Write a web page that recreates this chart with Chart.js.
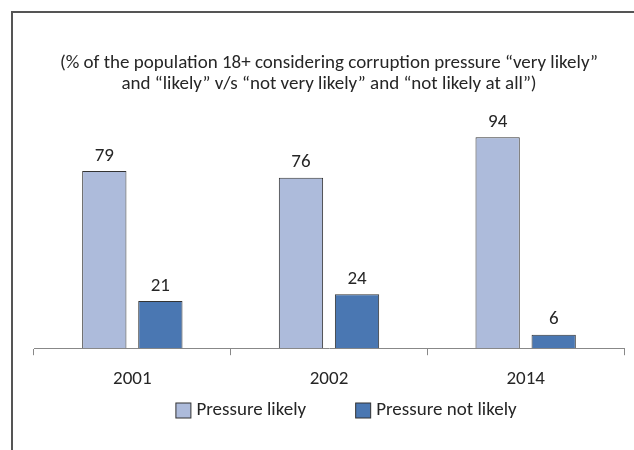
<!DOCTYPE html>
<html>
<head>
<meta charset="utf-8">
<script src="https://cdn.jsdelivr.net/npm/chart.js@4/dist/chart.umd.min.js"></script>
<style>
  html, body { margin: 0; padding: 0; background: #fff; }
  #wrap { width: 634px; height: 450px; position: relative; }
</style>
</head>
<body>
<div id="wrap"><canvas id="pressureChart" width="634" height="450"></canvas></div>
<script>
// Survey years and shares (%)
const years = ['2001', '2002', '2014'];
const pressureLikely = [79, 76, 94];
const pressureNotLikely = [21, 24, 6];
const seriesNames = ['Pressure likely', 'Pressure not likely'];
const titleLines = [
    '(% of the population 18+ considering corruption pressure \u201cvery likely\u201d',
    'and \u201clikely\u201d v/s \u201cnot very likely\u201d and \u201cnot likely at all\u201d)'
];

const fontFamily = 'Carlito, Lato, "Open Sans", sans-serif';
const textColor = '#262626';

// Frame lines along the top and left edge
const framePlugin = {
    id: 'frame',
    beforeDraw(chart) {
        const ctx = chart.ctx;
        ctx.save();
        ctx.strokeStyle = '#555';
        ctx.lineWidth = 2;
        ctx.beginPath();
        ctx.moveTo(12, chart.height);
        ctx.lineTo(12, 12);
        ctx.lineTo(chart.width, 12);
        ctx.stroke();
        ctx.restore();
    }
};

// Value labels above each bar
const valueLabels = {
    id: 'valueLabels',
    afterDatasetsDraw(chart) {
        const ctx = chart.ctx;
        ctx.save();
        ctx.font = '19px ' + fontFamily;
        ctx.fillStyle = textColor;
        ctx.textAlign = 'center';
        ctx.textBaseline = 'middle';
        chart.data.datasets.forEach((ds, i) => {
            chart.getDatasetMeta(i).data.forEach((bar, j) => {
                ctx.fillText(ds.data[j], bar.x, bar.y - 15);
            });
        });
        ctx.restore();
    }
};

// Legend row under the axis, a bit right of centre
const legendRow = {
    id: 'legendRow',
    afterDraw(chart) {
        const ctx = chart.ctx;
        const box = 15, textGap = 6, itemGap = 49, cy = 410, centerX = 346;
        ctx.save();
        ctx.font = '19px ' + fontFamily;
        ctx.textBaseline = 'middle';
        const items = chart.data.datasets.map(ds => ({
            text: ds.label,
            fill: ds.backgroundColor,
            w: box + textGap + ctx.measureText(ds.label).width
        }));
        const total = items.reduce((s, it) => s + it.w, 0) + itemGap * (items.length - 1);
        let x = centerX - total / 2;
        items.forEach(it => {
            ctx.fillStyle = it.fill;
            ctx.fillRect(x + 0.5, cy - box / 2 + 0.5, box, box);
            ctx.strokeStyle = '#333';
            ctx.lineWidth = 1;
            ctx.strokeRect(x + 0.5, cy - box / 2 + 0.5, box, box);
            ctx.fillStyle = textColor;
            ctx.fillText(it.text, x + box + textGap, cy);
            x += it.w + itemGap;
        });
        ctx.restore();
    }
};

const ctx = document.getElementById('pressureChart').getContext('2d');
new Chart(ctx, {
    type: 'bar',
    data: {
        labels: years,
        datasets: [{
            label: seriesNames[0],
            data: pressureLikely,
            backgroundColor: '#adbbdb',
            borderColor: '#333',
            borderWidth: 1
        }, {
            label: seriesNames[1],
            data: pressureNotLikely,
            backgroundColor: '#4a77b2',
            borderColor: '#333',
            borderWidth: 1
        }]
    },
    options: {
        responsive: false,
        animation: false,
        categoryPercentage: 0.57,
        barPercentage: 0.79,
        layout: {
            padding: { left: 34, right: 10, top: 53, bottom: 46 }
        },
        plugins: {
            title: {
                display: true,
                text: titleLines,
                color: textColor,
                font: { family: fontFamily, size: 19, weight: 'normal', lineHeight: 1.1 },
                padding: { top: 0, bottom: 29 }
            },
            legend: { display: false },
            tooltip: { enabled: false }
        },
        scales: {
            x: {
                grid: {
                    offset: true,
                    drawOnChartArea: false,
                    tickLength: 7,
                    color: '#888'
                },
                border: { color: '#888', width: 1 },
                ticks: {
                    color: textColor,
                    font: { family: fontFamily, size: 19 },
                    padding: 13
                }
            },
            y: {
                display: false,
                min: 0,
                max: 100
            }
        }
    },
    plugins: [framePlugin, valueLabels, legendRow]
});
</script>
</body>
</html>
